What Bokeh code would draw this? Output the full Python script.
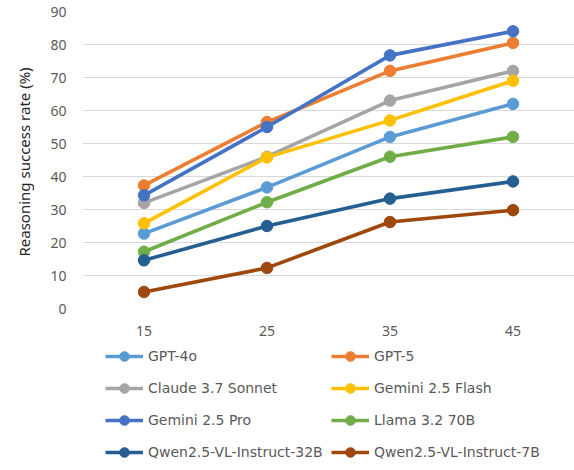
from bokeh.plotting import figure
from bokeh.models import Legend, LegendItem, FixedTicker
from bokeh.layouts import column
from bokeh.embed import file_html
from bokeh.resources import INLINE

categories = ["15", "25", "35", "45"]
series_names = ["GPT-4o", "GPT-5", "Claude 3.7 Sonnet", "Gemini 2.5 Flash",
                "Gemini 2.5 Pro", "Llama 3.2 70B", "Qwen2.5-VL-Instruct-32B",
                "Qwen2.5-VL-Instruct-7B"]
gpt4o = [22.7, 36.7, 52.0, 62.0]
gpt5 = [37.3, 56.5, 72.0, 80.5]
claude37 = [32.0, 46.0, 63.0, 72.0]
gemini_flash = [25.8, 45.8, 57.0, 69.0]
gemini_pro = [34.3, 55.0, 76.7, 84.0]
llama32 = [17.2, 32.2, 46.0, 52.0]
qwen32b = [14.6, 25.0, 33.3, 38.5]
qwen7b = [5.0, 12.3, 26.2, 29.8]
series_values = [gpt4o, gpt5, claude37, gemini_flash, gemini_pro, llama32, qwen32b, qwen7b]
colors = ["#5B9BD5", "#ED7D31", "#A5A5A5", "#FFC000", "#4472C4", "#70AD47", "#255E91", "#9E480E"]
y_ticks = [0, 10, 20, 30, 40, 50, 60, 70, 80, 90]

# ---- main chart ----
p = figure(width=574, height=340, x_range=categories, y_range=(0, 90),
           output_backend="svg", toolbar_location=None,
           min_border_left=82, min_border_right=0, min_border_top=11,
           min_border_bottom=32)
p.outline_line_color = None
p.background_fill_color = "white"
p.border_fill_color = "white"

for name, vals, c in zip(series_names, series_values, colors):
    p.line(categories, vals, line_color=c, line_width=3.6)
    p.scatter(categories, vals, size=11.5, fill_color=c, line_color=c)

p.xgrid.grid_line_color = None
p.ygrid.grid_line_color = "#D9D9D9"
p.ygrid.grid_line_width = 1
p.yaxis.ticker = FixedTicker(ticks=y_ticks)

for ax in (p.xaxis[0], p.yaxis[0]):
    ax.axis_line_color = None
    ax.major_tick_line_color = None
    ax.minor_tick_line_color = None
    ax.major_label_text_color = "#595959"
    ax.major_label_text_font = "Noto Sans"
    ax.major_label_text_font_size = "14px"

p.xaxis.major_label_standoff = 11
p.yaxis.major_label_standoff = 10
p.yaxis.axis_label = "Reasoning success rate  (%)"
p.yaxis.axis_label_text_font = "Noto Sans"
p.yaxis.axis_label_text_font_size = "15px"
p.yaxis.axis_label_text_font_style = "normal"
p.yaxis.axis_label_text_color = "#262626"
p.yaxis.axis_label_standoff = 13

# ---- legend panel (row-major order like the reference) ----
lg = figure(width=574, height=130, x_range=(0, 1), y_range=(0, 1),
            output_backend="svg", toolbar_location=None,
            x_axis_type=None, y_axis_type=None,
            min_border_left=82, min_border_right=0, min_border_top=0,
            min_border_bottom=0)
lg.outline_line_color = None
lg.xgrid.grid_line_color = None
lg.ygrid.grid_line_color = None

nan = float("nan")
item_map = {}
for name, c in zip(series_names, colors):
    l = lg.line([nan], [nan], line_color=c, line_width=3.6)
    s = lg.scatter([nan], [nan], size=10, fill_color=c, line_color=c)
    item_map[name] = LegendItem(label=name, renderers=[l, s])

order = series_names[0::2] + series_names[1::2]
legend = Legend(items=[item_map[n] for n in order], ncols=2, location=(23, 2),
                margin=0, padding=0, spacing=0, label_height=32, glyph_height=24,
                glyph_width=38, label_standoff=5, label_width=183,
                label_text_font="DejaVu Sans", label_text_font_size="14px",
                label_text_color="#595959", border_line_color=None,
                background_fill_alpha=0)
lg.add_layout(legend, "center")

layout = column(p, lg, spacing=0)
open("out.html", "w").write(file_html(layout, INLINE))
